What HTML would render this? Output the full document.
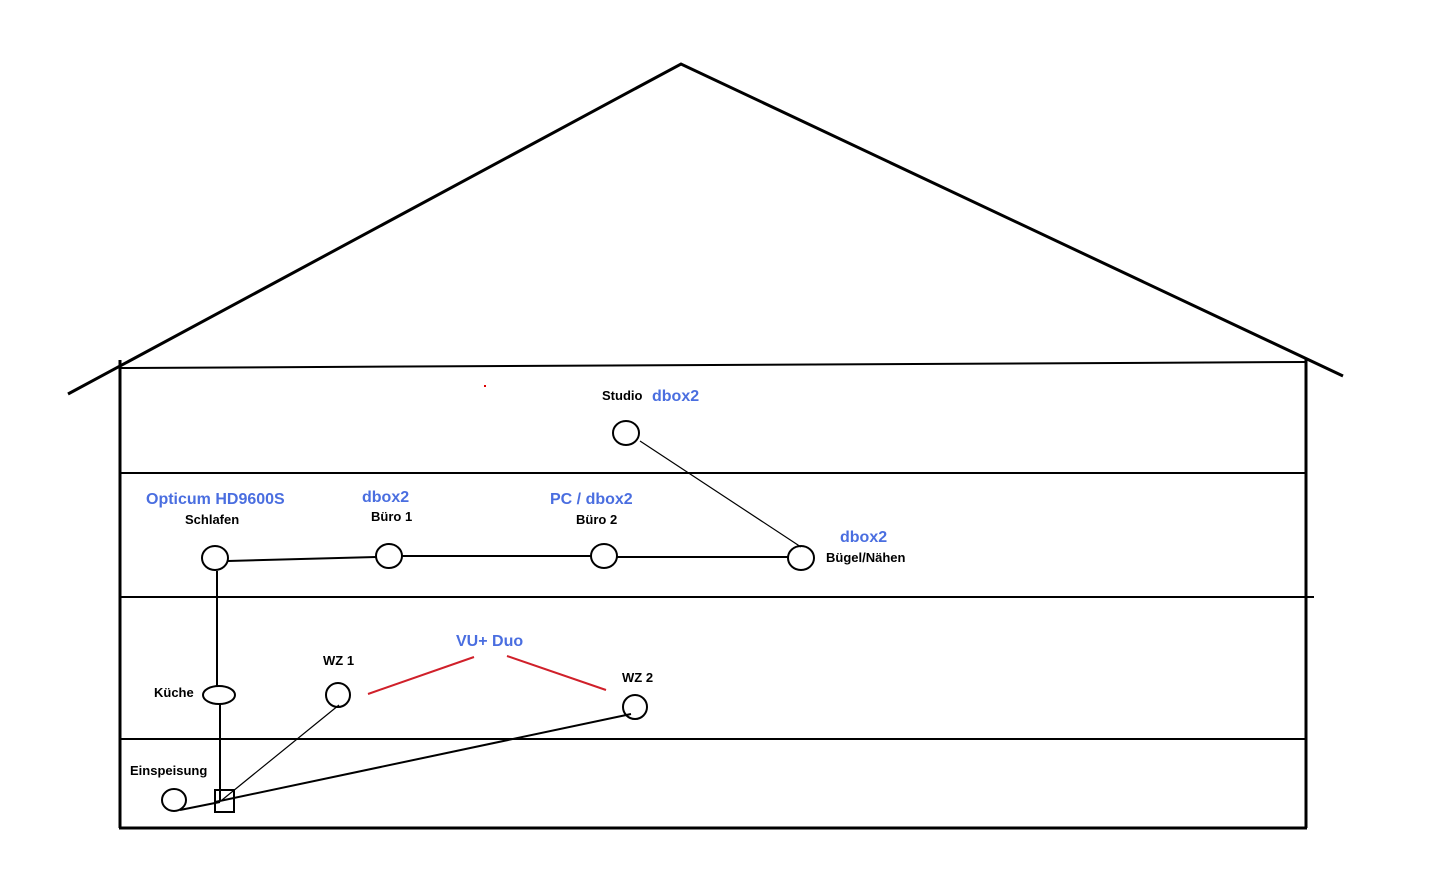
<!DOCTYPE html>
<html><head><meta charset="utf-8"><style>
body{margin:0;background:#fff;}
svg{display:block;}
.b{font-family:"Liberation Sans",sans-serif;font-weight:bold;font-size:13px;fill:#000;}
.c{font-family:"Liberation Sans",sans-serif;font-weight:bold;font-size:16px;fill:#4a6ee0;}
</style></head><body>
<svg width="1451" height="885" viewBox="0 0 1451 885">
<g stroke="#000" fill="none" stroke-width="3">
<polyline points="68,394 681,64 1343,376"/>
<line x1="120" y1="360" x2="120" y2="828"/>
<line x1="1306" y1="358" x2="1306" y2="828"/>
<line x1="119" y1="828" x2="1307" y2="828"/>
</g>
<g stroke="#000" fill="none" stroke-width="2">
<line x1="120" y1="368" x2="1306" y2="362"/>
<line x1="120" y1="473" x2="1306" y2="473"/>
<line x1="120" y1="597" x2="1314" y2="597"/>
<line x1="120" y1="739" x2="1306" y2="739"/>
<ellipse cx="626" cy="433" rx="13" ry="12"/>
<ellipse cx="215" cy="558" rx="13" ry="12"/>
<ellipse cx="389" cy="556" rx="13" ry="12"/>
<ellipse cx="604" cy="556" rx="13" ry="12"/>
<ellipse cx="801" cy="558" rx="13" ry="12"/>
<ellipse cx="219" cy="695" rx="16" ry="9"/>
<ellipse cx="338" cy="695" rx="12" ry="12"/>
<ellipse cx="635" cy="707" rx="12" ry="12"/>
<ellipse cx="174" cy="800" rx="12" ry="11"/>
<rect x="215" y="790" width="19" height="22"/>
<line x1="228" y1="561" x2="376" y2="557"/>
<line x1="402" y1="556" x2="591" y2="556"/>
<line x1="617" y1="557" x2="788" y2="557"/>
<line x1="217" y1="571" x2="217" y2="686"/>
<line x1="220" y1="704" x2="220" y2="800"/>
<line x1="215" y1="802" x2="631" y2="714"/>
<line x1="180" y1="810" x2="220" y2="802"/>
</g>
<g stroke="#000" fill="none" stroke-width="1.2">
<line x1="640" y1="441" x2="801" y2="547"/>
<line x1="339" y1="705" x2="222" y2="800"/>
</g>
<g stroke="#d0202a" stroke-width="2">
<line x1="368" y1="694" x2="474" y2="657"/>
<line x1="507" y1="656" x2="606" y2="690"/>
</g>
<rect x="484" y="385" width="2" height="2" fill="#d00"/>
<text class="b" x="602" y="400">Studio</text>
<text class="c" x="652" y="401">dbox2</text>
<text class="c" x="146" y="504">Opticum HD9600S</text>
<text class="b" x="185" y="524">Schlafen</text>
<text class="c" x="362" y="502">dbox2</text>
<text class="b" x="371" y="521">Büro 1</text>
<text class="c" x="550" y="504">PC / dbox2</text>
<text class="b" x="576" y="524">Büro 2</text>
<text class="c" x="840" y="542">dbox2</text>
<text class="b" x="826" y="562">Bügel/Nähen</text>
<text class="c" x="456" y="646">VU+ Duo</text>
<text class="b" x="323" y="665">WZ 1</text>
<text class="b" x="622" y="682">WZ 2</text>
<text class="b" x="154" y="697">Küche</text>
<text class="b" x="130" y="775">Einspeisung</text>
</svg>
</body></html>
